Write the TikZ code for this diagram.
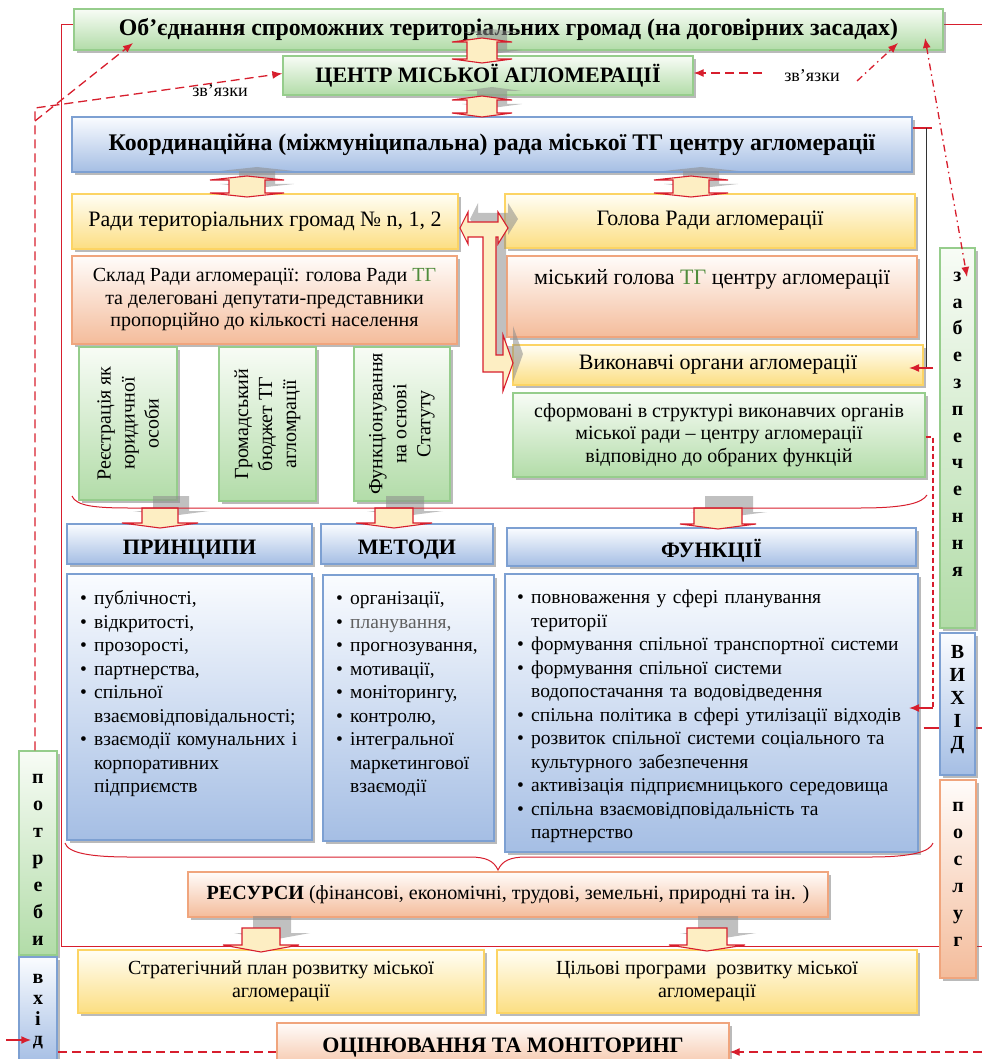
\documentclass[tikz,border=0pt]{standalone}
\usepackage{fontspec}
\setmainfont{Liberation Serif}
\usetikzlibrary{arrows.meta,shadows,calc}
\pgfdeclarelayer{background}
\pgfsetlayers{background,main}
\definecolor{gbord}{RGB}{150,205,140}
\definecolor{gtop}{RGB}{248,252,246}
\definecolor{gbot}{RGB}{178,220,168}
\definecolor{bbord}{RGB}{125,160,210}
\definecolor{btop}{RGB}{250,252,255}
\definecolor{bbot}{RGB}{165,190,228}
\definecolor{ybord}{RGB}{252,212,100}
\definecolor{ytop}{RGB}{255,254,245}
\definecolor{ybot}{RGB}{252,222,130}
\definecolor{pbord}{RGB}{240,165,125}
\definecolor{ptop}{RGB}{255,252,250}
\definecolor{pbot}{RGB}{244,188,155}
\definecolor{redl}{RGB}{215,30,45}
\definecolor{arrfill}{RGB}{253,238,195}
\definecolor{tgcol}{RGB}{80,140,60}
\definecolor{grtxt}{RGB}{95,95,95}
\newcommand\itm[1]{\par\hangindent=14pt\hangafter=1\noindent\makebox[14pt][l]{\textbullet}#1\par}
\newcommand\dvarr[5]{%
  \fill[arrshadow,xshift=10pt,yshift=9pt] ({#1-#4},{#2+4}) -- (#1,#2) -- ({#1+#4},{#2+4}) -- ({#1+#5},{#2+4}) -- ({#1+#5},{#3-4}) -- ({#1+#4},{#3-4}) -- (#1,#3) -- ({#1-#4},{#3-4}) -- ({#1-#5},{#3-4}) -- ({#1-#5},{#2+4}) -- cycle;
  \draw[blockarr] ({#1-#4},{#2+4}) -- (#1,#2) -- ({#1+#4},{#2+4}) -- ({#1+#5},{#2+4}) -- ({#1+#5},{#3-4}) -- ({#1+#4},{#3-4}) -- (#1,#3) -- ({#1-#4},{#3-4}) -- ({#1-#5},{#3-4}) -- ({#1-#5},{#2+4}) -- cycle;}
\newcommand\darr[6]{%
  \fill[arrshadow,xshift=11pt,yshift=12pt] ({#1-#6},#2) -- ({#1-#6},#3) -- ({#1-#5},#3) -- (#1,#4) -- ({#1+#5},#3) -- ({#1+#6},#3) -- ({#1+#6},#2) -- cycle;
  \draw[blockarr] ({#1-#6},#2) -- ({#1-#6},#3) -- ({#1-#5},#3) -- (#1,#4) -- ({#1+#5},#3) -- ({#1+#6},#3) -- ({#1+#6},#2) -- cycle;}
\tikzset{
  boxbase/.style={inner sep=2pt, line width=1.3pt, align=center,
    drop shadow={shadow xshift=3pt,shadow yshift=-3pt,fill=black!60,opacity=0.45}},
  gbox/.style={boxbase, draw=gbord, top color=gtop, bottom color=gbot},
  bbox/.style={boxbase, draw=bbord, top color=btop, bottom color=bbot},
  ybox/.style={boxbase, draw=ybord, top color=ytop, bottom color=ybot},
  pbox/.style={boxbase, draw=pbord, top color=ptop, bottom color=pbot},
  arrshadow/.style={fill=black!45, opacity=0.55},
  blockarr/.style={fill=arrfill, draw=redl, line width=1.1pt, line join=miter},
  frame/.style={draw=redl, line width=1pt},
  rdash/.style={draw=redl, line width=1.3pt, dash pattern=on 9pt off 5pt},
  rdashdot/.style={draw=redl, line width=1.3pt, dash pattern=on 7pt off 4pt on 1.5pt off 4pt},
  tip/.style={-{Latex[length=10pt,width=8pt]}},
  ftitle/.style={font=\bfseries\fontsize{22}{26}\selectfont},
  fhead/.style={font=\bfseries\fontsize{22}{26}\selectfont, text height=20.5pt, text depth=0pt},
  fkoord/.style={font=\bfseries\fontsize{23.8}{28}\selectfont},
  fbig/.style={font=\fontsize{22}{26}\selectfont},
  fmid/.style={font=\fontsize{20}{22.5}\selectfont},
  flist/.style={font=\fontsize{19.5}{23.5}\selectfont, anchor=north west, inner sep=0pt, align=left},
  fside/.style={font=\bfseries\fontsize{20}{27}\selectfont, align=center, inner sep=0pt},
}
\begin{document}
\begin{tikzpicture}[x=1pt,y=-1pt]
\useasboundingbox (0,0) rectangle (982,1059);
% ---------- boxes ----------
\node[gbox, font=\bfseries\fontsize{23.8}{28}\selectfont, minimum width=869pt, minimum height=41pt] (top) at (508.5,29.5) {Об’єднання спроможних територіальних громад (на договірних засадах)};
\node[gbox, ftitle, minimum width=410pt, minimum height=39pt] (centr) at (488,75.5) {ЦЕНТР МІСЬКОЇ АГЛОМЕРАЦІЇ};
\node[bbox, fkoord, minimum width=840pt, minimum height=55pt] (koord) at (492,144.5) {Координаційна (міжмуніципальна) рада міської ТГ центру агломерації};
\node[ybox, fbig, minimum width=386pt, minimum height=55pt] (rady) at (265,221.5) {Ради територіальних громад № n, 1, 2};
\node[pbox, fmid, minimum width=385pt, minimum height=88pt] (sklad) at (264.5,300) {Склад Ради агломерації: голова Ради \textcolor{tgcol}{ТГ}\\та делеговані депутати-представники\\пропорційно до кількості населення};
\node[gbox, minimum width=98pt, minimum height=153pt] (v1) at (128,423.5) {};
\node[gbox, minimum width=97pt, minimum height=154pt] (v2) at (267.5,424) {};
\node[gbox, minimum width=96pt, minimum height=154pt] (v3) at (402,424) {};
\node[rotate=90, align=center, font=\fontsize{20}{24}\selectfont] (v1t) at (v1) {Реєстрація як\\юридичної\\особи};
\node[rotate=90, align=center, font=\fontsize{20}{24}\selectfont] (v2t) at (v2) {Громадський\\бюджет ТГ\\агломрації};
\node[rotate=90, align=center, font=\fontsize{20}{24}\selectfont] (v3t) at (v3) {Функціонування\\на основі\\Статуту};
\node[ybox, fbig, minimum width=410pt, minimum height=54pt] (holova) at (710,221) {Голова Ради агломерації};
\node[pbox, minimum width=410pt, minimum height=81pt] (misky) at (712,296.5) {};
\node[fbig] (miskyt) at (712,279) {міський голова \textcolor{tgcol}{ТГ} центру агломерації};
\node[ybox, fbig, minimum width=410pt, minimum height=40pt] (vykon) at (718,365) {Виконавчі органи агломерації};
\node[gbox, fmid, minimum width=412pt, minimum height=84pt] (sform) at (719,435) {сформовані в структурі виконавчих органів\\міської ради – центру агломерації\\відповідно до обраних функцій};
\node[bbox, fhead, minimum width=245pt, minimum height=40pt] (prh) at (189.5,544) {ПРИНЦИПИ};
\node[bbox, fhead, minimum width=172pt, minimum height=40pt] (meh) at (407,544) {МЕТОДИ};
\node[bbox, fhead, minimum width=409pt, minimum height=38pt] (fuh) at (711.5,547) {ФУНКЦІЇ};
\node[bbox, minimum width=245pt, minimum height=266pt] (prl) at (189.5,707) {};
\node[bbox, minimum width=171pt, minimum height=266pt] (mel) at (408.5,708) {};
\node[bbox, minimum width=413pt, minimum height=278pt] (ful) at (711.5,713) {};
\node[flist, text width=214pt] (prlt) at (80,581) {\itm{публічності,}\itm{відкритості,}\itm{прозорості,}\itm{партнерства,}\itm{спільної\newline взаємовідповідальності;}\itm{\makebox[200pt][s]{взаємодії комунальних і}\newline корпоративних\newline підприємств}};
\node[flist, text width=160pt] (melt) at (336,581) {\itm{організації,}\itm{\textcolor{grtxt}{планування,}}\itm{прогнозування,}\itm{мотивації,}\itm{моніторингу,}\itm{контролю,}\itm{інтегральної\newline маркетингової\newline взаємодії}};
\node[flist, text width=400pt] (fult) at (517,580) {\itm{повноваження у сфері планування\newline території}\itm{формування спільної транспортної системи}\itm{формування спільної системи\newline водопостачання та водовідведення}\itm{спільна політика в сфері утилізації відходів}\itm{розвиток спільної системи соціального та\newline культурного забезпечення}\itm{активізація підприємницького середовища}\itm{спільна взаємовідповідальність та\newline партнерство}};
\node[pbox, font=\fontsize{20.1}{24}\selectfont, minimum width=640pt, minimum height=45pt] (res) at (508,894.5) {\textbf{РЕСУРСИ} (фінансові, економічні, трудові, земельні, природні та ін. )};
\node[ybox, fmid, minimum width=406pt, minimum height=63pt] (strat) at (281,981.5) {Стратегічний план розвитку міської\\агломерації};
\node[ybox, fmid, minimum width=420pt, minimum height=63pt] (cil) at (707,981.5) {Цільові програми\ \ розвитку міської\\агломерації};
\node[pbox, font=\bfseries\fontsize{22}{26}\selectfont, minimum width=452pt, minimum height=52pt, text depth=8pt] (ocin) at (503,1049) {ОЦІНЮВАННЯ ТА МОНІТОРИНГ};
% side boxes
\node[gbox, minimum width=38pt, minimum height=204pt] (potr) at (38,853) {};
\node[fside] (potrt) at (38,860) {п\\о\\т\\р\\е\\б\\и};
\node[bbox, minimum width=38pt, minimum height=107pt] (vhid) at (38,1010.5) {};
\node[fside, font=\bfseries\fontsize{20}{20.7}\selectfont] (vhidt) at (38,1012) {в\\х\\і\\д};
\node[gbox, minimum width=35pt, minimum height=380pt] (zabez) at (957.5,438) {};
\node[fside, font=\bfseries\fontsize{20}{26.8}\selectfont] (zabezt) at (957.5,424) {з\\а\\б\\е\\з\\п\\е\\ч\\е\\н\\н\\я};
\node[bbox, minimum width=35pt, minimum height=142pt] (vyhid) at (957.5,704) {};
\node[fside, font=\bfseries\fontsize{20}{22.75}\selectfont] (vyhidt) at (957.5,700) {В\\И\\Х\\І\\Д};
\node[pbox, minimum width=36pt, minimum height=198pt] (poslug) at (958,879) {};
\node[fside] (poslugt) at (958,874) {п\\о\\с\\л\\у\\г};
% labels
\node[font=\fontsize{18}{20}\selectfont, inner sep=1pt] (lblL) at (220,91) {зв’язки};
\node[font=\fontsize{18}{20}\selectfont, inner sep=1pt, fill=white] (lblR) at (812,76) {зв’язки};
% ---------- frame (background) ----------
\coordinate (frBL) at (61,946);
\coordinate (frBR) at (982,946);
\coordinate (frTR) at (982,24.5);
\coordinate (vyhR) at (982,728);
\begin{pgfonlayer}{background}
\draw[frame] ([yshift=5pt]top.west) -| (frBL) -- (frBR);
\draw[frame] ([yshift=5pt]top.east) -- (frTR);
\draw[draw=redl, line width=2.3pt] ([xshift=5pt]ful.east |- vyhR) -- (vyhR);
\end{pgfonlayer}
% ---------- block arrows ----------
\dvarr{482}{38}{63}{30}{15}
\dvarr{482}{96}{117}{30}{15}
\dvarr{247}{176}{197}{37}{18}
\dvarr{691}{176}{197}{37}{18}
\fill[arrshadow,xshift=10pt,yshift=9pt] (460,228) -- (468,212) -- (468,222) -- (498,222) -- (498,212) -- (508,228) -- (498,244) -- (498,237) -- (496,237) -- (496,355) -- (503,355) -- (503,335) -- (513,363) -- (503,391) -- (503,372) -- (483,372) -- (483,237) -- (468,237) -- (468,244) -- cycle;
\draw[blockarr] (460,228) -- (468,212) -- (468,222) -- (498,222) -- (498,212) -- (508,228) -- (498,244) -- (498,237) -- (496,237) -- (496,355) -- (503,355) -- (503,335) -- (513,363) -- (503,391) -- (503,372) -- (483,372) -- (483,237) -- (468,237) -- (468,244) -- cycle;
\darr{160}{508}{523}{528}{38}{18}
\darr{394}{508}{523}{528}{38}{19}
\darr{718}{508}{524}{529}{38}{24}
\darr{261}{928}{945}{952}{38}{19}
\darr{707}{928}{945}{951}{38}{20}
% ---------- braces ----------
\draw[frame] (72,496) .. controls (76,506) and (95,508) .. (130,508) -- (860,508) .. controls (905,508) and (922,503) .. (927,495);
\draw[frame] (65,843) .. controls (68,853) and (90,857) .. (130,857) -- (470,857) .. controls (486,857) and (494,861) .. (498,870) .. controls (502,861) and (510,857) .. (526,857) -- (870,857) .. controls (915,857) and (930,851) .. (933,843);
% ---------- connectors ----------
\coordinate (lc1) at (35,108);
\coordinate (lc2) at (35,121);
\coordinate (topIn) at (133,43);
\draw[rdash, tip] ([xshift=-3pt]potr.north) -- (lc1) -- ([yshift=2pt]centr.west);
\draw[rdash, tip] (lc2) -- (topIn);
\coordinate (rc1) at (762,73);
\coordinate (rc2) at (857,81);
\coordinate (topIn2) at (898,43);
\draw[rdash, tip] (rc1) -- (rc1 -| centr.east);
\draw[rdashdot, tip] (rc2) -- (topIn2);
\coordinate (zA) at (925,38);
\coordinate (zB) at (967,277);
\draw[rdashdot, {Latex[length=10pt,width=8pt]}-{Latex[length=10pt,width=8pt]}] (zA) -- (zB);
\coordinate (kR) at (932,128);
\coordinate (kB) at (926,368);
\coordinate (vkIn) at (909,368);
\draw[frame, line width=1.2pt] (koord.east |- kR) -- (kR);
\draw[black!80, line width=1pt] (kB |- kR) -- (kB);
\draw[draw=redl, line width=1.5pt, tip] (933,368) -- (vkIn);
\coordinate (sfR) at (933,437);
\coordinate (fuIn) at (909,708);
\draw[draw=redl, line width=1.2pt, dash pattern=on 5pt off 3pt] (sform.east |- sfR) -- (sfR) -- (sfR |- fuIn);
\draw[draw=redl, line width=1.5pt, tip] (sfR |- fuIn) -- (fuIn);
\coordinate (bl) at (58,1052);
\coordinate (br) at (982,1052);
\draw[rdash] (bl) -- (bl -| ocin.west);
\draw[rdash, tip] (br) -- (br -| ocin.east);
\coordinate (inA) at (6,1040);
\draw[draw=redl, line width=1.8pt, tip] (inA) -- ([xshift=13pt]vhid.west |- inA);
\end{tikzpicture}
\end{document}
